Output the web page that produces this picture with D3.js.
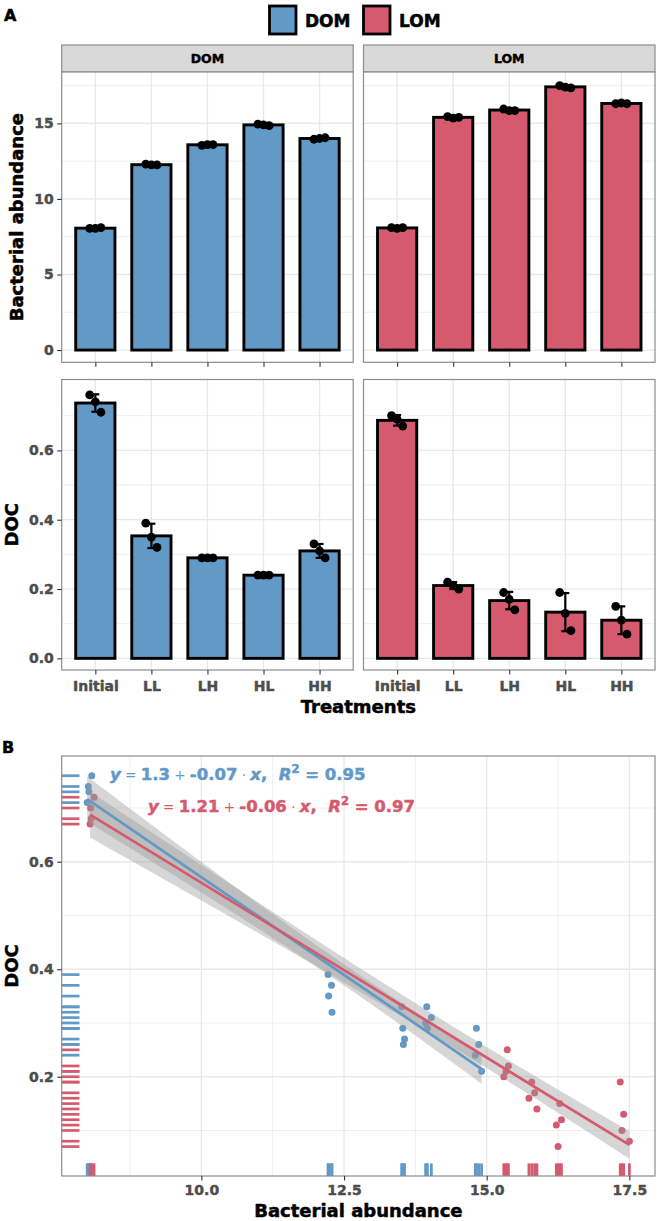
<!DOCTYPE html>
<html><head><meta charset="utf-8">
<script src="https://d3js.org/d3.v7.min.js"></script>
<style>
body{margin:0;background:#fff;}
svg{display:block;}
</style></head>
<body><svg id="chart" width="660" height="1221"></svg>
<script>
// ---------------- data ----------------
const treatments = ["Initial", "LL", "LH", "HL", "HH"];
const groups = ["DOM", "LOM"];
const groupColors = ["#6199c7", "#d65a6e"];

// Panel A: replicate values per treatment
const abundanceDOM = [[8.05, 8.05, 8.1], [12.3, 12.25, 12.25], [13.55, 13.6, 13.6], [14.95, 14.9, 14.85], [13.95, 14.0, 14.05]];
const abundanceLOM = [[8.1, 8.05, 8.1], [15.45, 15.35, 15.4], [15.95, 15.85, 15.85], [17.5, 17.4, 17.35], [16.3, 16.35, 16.3]];
const docDOM = [[0.76, 0.74, 0.71], [0.39, 0.35, 0.32], [0.29, 0.29, 0.29], [0.24, 0.24, 0.24], [0.33, 0.31, 0.29]];
const docLOM = [[0.70, 0.69, 0.67], [0.22, 0.21, 0.20], [0.19, 0.17, 0.14], [0.19, 0.13, 0.08], [0.15, 0.11, 0.07]];
const abundanceTicks = [0, 5, 10, 15];
const docTicks = [0, 0.2, 0.4, 0.6];

// Panel B: bacterial abundance vs DOC
const scatterDOMx = [8.08, 8.02, 8.03, 8.00, 12.22, 12.28, 12.23, 12.29, 13.51, 13.53, 13.56, 13.54, 13.95, 14.03, 13.93, 13.96, 14.82, 14.86, 14.80, 14.91];
const scatterDOMy = [0.76, 0.74, 0.73, 0.71, 0.39, 0.37, 0.35, 0.32, 0.33, 0.29, 0.27, 0.26, 0.33, 0.31, 0.30, 0.29, 0.29, 0.26, 0.24, 0.21];
const scatterLOMx = [8.12, 8.06, 8.07, 8.05, 15.36, 15.38, 15.34, 15.30, 15.79, 15.84, 15.74, 15.88, 16.28, 16.31, 16.22, 16.25, 17.34, 17.40, 17.37, 17.50];
const scatterLOMy = [0.72, 0.70, 0.68, 0.67, 0.25, 0.22, 0.21, 0.20, 0.19, 0.17, 0.16, 0.14, 0.15, 0.12, 0.11, 0.07, 0.19, 0.13, 0.10, 0.08];
const scatterXTicks = [10, 12.5, 15, 17.5];
const scatterYTicks = [0.2, 0.4, 0.6];
const eqIntercept = ["1.3", "1.21"];
const eqSlope = ["-0.07", "-0.06"];
const eqR2 = ["0.95", "0.97"];

// ---------------- drawing ----------------
const FONT = "'DejaVu Sans', 'Liberation Sans', sans-serif";
const GRID = "#e8e8e8", BORDER = "#8c8c8c", TICK = "#333333", TICKTXT = "#4d4d4d";
const svg = d3.select("#chart");
svg.append("rect").attr("width", 660).attr("height", 1221).attr("fill", "#fff");

function heavy(sel, color, w) {
  return sel.attr("stroke", color).attr("stroke-width", w).attr("stroke-linejoin", "round").attr("paint-order", "stroke");
}
function txt(sel, x, y, s, size, o = {}) {
  const t = sel.append("text").attr("x", x).attr("y", y).text(s)
    .attr("font-family", FONT).attr("font-weight", o.weight || "bold")
    .attr("font-size", size).attr("fill", o.fill || "#000")
    .attr("text-anchor", o.anchor || "start")
    .attr("transform", o.transform || null);
  heavy(t, o.fill || "#000", o.sw === undefined ? 0.5 : o.sw);
  return t;
}
function midpoints(t) {
  const step = t[1] - t[0];
  const out = [];
  for (let i = 0; i < t.length; i++) out.push(t[i] - step / 2, t[i] + step / 2);
  return Array.from(new Set(out.map(v => +v.toFixed(6))));
}
function styleAxis(ax) {
  ax.select(".domain").remove();
  ax.selectAll(".tick line").attr("stroke", TICK).attr("stroke-width", 1.1);
  const t = ax.selectAll(".tick text").attr("font-family", FONT).attr("font-weight", "bold")
    .attr("font-size", 14).attr("fill", TICKTXT);
  heavy(t, TICKTXT, 0.45);
}

// ---- panel A labels & legend ----
txt(svg, 4, 21, "A", 16);
const legendKeys = [{x: 269.5, tx: 305}, {x: 363.5, tx: 399}];
groups.forEach((g, i) => {
  svg.append("rect").attr("x", legendKeys[i].x).attr("y", 6).attr("width", 26.5).attr("height", 28)
    .attr("fill", groupColors[i]).attr("stroke", "#000").attr("stroke-width", 2.8);
  txt(svg, legendKeys[i].tx, 26.5, g, 17);
});

const A = {x0: [61.7, 363.5], w: 291.5, stripTop: 45, stripBot: 72,
  rows: [{top: 72, bot: 362.3}, {top: 379.5, bot: 670}]};
const yAb = d3.scaleLinear().domain([-0.81, 18.4]).range([A.rows[0].bot, A.rows[0].top]);
const yDoc = d3.scaleLinear().domain([-0.0336, 0.8045]).range([A.rows[1].bot, A.rows[1].top]);
const rowScales = [yAb, yDoc];
const rowTicks = [abundanceTicks, docTicks];
const rowFormat = [d3.format("d"), d3.format(".1f")];
const rowData = [[abundanceDOM, abundanceLOM], [docDOM, docLOM]];
const jitter = [-0.1, 0, 0.1];

groups.forEach((gname, gi) => {
  const x0 = A.x0[gi], x1 = x0 + A.w;
  const x = d3.scalePoint().domain(treatments).range([x0, x1]).padding(0.6);
  const bw = x.step() * 0.7;
  // strip
  svg.append("rect").attr("x", x0).attr("y", A.stripTop).attr("width", A.w)
    .attr("height", A.stripBot - A.stripTop).attr("fill", "#d9d9d9")
    .attr("stroke", BORDER).attr("stroke-width", 1.2);
  txt(svg, (x0 + x1) / 2, 63, gname, 12.5, {anchor: "middle", sw: 0.45});

  rowData.forEach((rd, ri) => {
    const y = rowScales[ri], r = A.rows[ri];
    const g = svg.append("g");
    g.append("rect").attr("x", x0).attr("y", r.top).attr("width", A.w).attr("height", r.bot - r.top).attr("fill", "#fff");
    midpoints(rowTicks[ri]).filter(v => y(v) > r.top && y(v) < r.bot).forEach(v => {
      g.append("line").attr("x1", x0).attr("x2", x1).attr("y1", y(v)).attr("y2", y(v))
        .attr("stroke", GRID).attr("stroke-width", 0.7);
    });
    rowTicks[ri].forEach(v => {
      g.append("line").attr("x1", x0).attr("x2", x1).attr("y1", y(v)).attr("y2", y(v))
        .attr("stroke", GRID).attr("stroke-width", 1.3);
    });
    treatments.forEach(t => {
      g.append("line").attr("x1", x(t)).attr("x2", x(t)).attr("y1", r.top).attr("y2", r.bot)
        .attr("stroke", GRID).attr("stroke-width", 1.3);
    });
    const stats = rd[gi].map((v, i) => ({t: treatments[i], v, mean: d3.mean(v), sd: d3.deviation(v)}));
    g.selectAll(".bar").data(stats).enter().append("rect")
      .attr("x", d => x(d.t) - bw / 2).attr("y", d => y(d.mean))
      .attr("width", bw).attr("height", d => y(0) - y(d.mean))
      .attr("fill", groupColors[gi]).attr("stroke", "#000").attr("stroke-width", 2.9);
    stats.forEach(d => {
      const lo = y(d.mean - d.sd), hi = y(d.mean + d.sd), cx = x(d.t);
      g.append("line").attr("x1", cx).attr("x2", cx).attr("y1", lo).attr("y2", hi).attr("stroke", "#000").attr("stroke-width", 2.2);
      [lo, hi].forEach(yy => g.append("line").attr("x1", cx - 4).attr("x2", cx + 4).attr("y1", yy).attr("y2", yy).attr("stroke", "#000").attr("stroke-width", 2.2));
      d.v.forEach((val, k) => {
        g.append("circle").attr("cx", cx + jitter[k] * x.step()).attr("cy", y(val)).attr("r", 4.4).attr("fill", "#000");
      });
    });
    g.append("rect").attr("x", x0).attr("y", r.top).attr("width", A.w).attr("height", r.bot - r.top)
      .attr("fill", "none").attr("stroke", BORDER).attr("stroke-width", 1.2);
    // x ticks
    const axB = svg.append("g").attr("transform", `translate(0,${r.bot})`)
      .call(d3.axisBottom(x).tickSize(4.5).tickPadding(6.5));
    styleAxis(axB);
    if (ri === 0) axB.selectAll(".tick text").remove();
    if (gi === 0) {
      const axL = svg.append("g").attr("transform", `translate(${x0},0)`)
        .call(d3.axisLeft(y).tickValues(rowTicks[ri]).tickFormat(rowFormat[ri]).tickSize(4.5).tickPadding(3.5));
      styleAxis(axL);
    }
  });
});
txt(svg, 0, 0, "Bacterial abundance", 18, {anchor: "middle", transform: `translate(22.5,${(A.rows[0].top + A.rows[0].bot) / 2}) rotate(-90)`});
txt(svg, 0, 0, "DOC", 18, {anchor: "middle", transform: `translate(17.5,${(A.rows[1].top + A.rows[1].bot) / 2}) rotate(-90)`});
txt(svg, (A.x0[0] + A.x0[1] + A.w) / 2, 713, "Treatments", 18, {anchor: "middle"});

// ---- panel B ----
txt(svg, 2, 753, "B", 16);
const B = {left: 61.7, right: 655, top: 756, bot: 1176};
const xB = d3.scaleLinear().domain([7.553, 17.949]).range([B.left, B.right]);
const yB = d3.scaleLinear().domain([0.0153, 0.7967]).range([B.bot, B.top]);
const gB = svg.append("g");
gB.append("rect").attr("x", B.left).attr("y", B.top).attr("width", B.right - B.left).attr("height", B.bot - B.top).attr("fill", "#fff");
midpoints(scatterXTicks).filter(v => xB(v) > B.left && xB(v) < B.right).forEach(v => {
  gB.append("line").attr("x1", xB(v)).attr("x2", xB(v)).attr("y1", B.top).attr("y2", B.bot).attr("stroke", GRID).attr("stroke-width", 0.7);
});
midpoints(scatterYTicks).filter(v => yB(v) > B.top && yB(v) < B.bot).forEach(v => {
  gB.append("line").attr("x1", B.left).attr("x2", B.right).attr("y1", yB(v)).attr("y2", yB(v)).attr("stroke", GRID).attr("stroke-width", 0.7);
});
scatterXTicks.forEach(v => gB.append("line").attr("x1", xB(v)).attr("x2", xB(v)).attr("y1", B.top).attr("y2", B.bot).attr("stroke", GRID).attr("stroke-width", 1.3));
scatterYTicks.forEach(v => gB.append("line").attr("x1", B.left).attr("x2", B.right).attr("y1", yB(v)).attr("y2", yB(v)).attr("stroke", GRID).attr("stroke-width", 1.3));

const series = [
  {xs: scatterDOMx, ys: scatterDOMy, color: groupColors[0]},
  {xs: scatterLOMx, ys: scatterLOMy, color: groupColors[1]}
];
function linfit(xs, ys) {
  const n = xs.length, mx = d3.mean(xs), my = d3.mean(ys);
  let sxx = 0, sxy = 0;
  xs.forEach((xv, i) => { sxx += (xv - mx) ** 2; sxy += (xv - mx) * (ys[i] - my); });
  const b = sxy / sxx, a = my - b * mx;
  let sse = 0;
  xs.forEach((xv, i) => { sse += (ys[i] - (a + b * xv)) ** 2; });
  const s = Math.sqrt(sse / (n - 2));
  return {a, b, s, n, mx, sxx};
}
const tCrit = 2.101; // t(0.975, df = 18)
// points
series.forEach(sr => {
  sr.xs.forEach((xv, i) => {
    gB.append("circle").attr("cx", xB(xv)).attr("cy", yB(sr.ys[i])).attr("r", 3.5).attr("fill", sr.color);
  });
});
// confidence bands
series.forEach(sr => {
  const f = linfit(sr.xs, sr.ys);
  const [mn, mxx] = d3.extent(sr.xs);
  const grid = d3.range(0, 81).map(k => mn + (mxx - mn) * k / 80);
  const band = grid.map(xv => {
    const yh = f.a + f.b * xv;
    const se = f.s * Math.sqrt(1 / f.n + (xv - f.mx) ** 2 / f.sxx);
    return {x: xv, lo: yh - tCrit * se, hi: yh + tCrit * se};
  });
  gB.append("path").datum(band)
    .attr("d", d3.area().x(d => xB(d.x)).y0(d => yB(d.lo)).y1(d => yB(d.hi)))
    .attr("fill", "#999999").attr("fill-opacity", 0.4);
  sr.fit = f; sr.ext = [mn, mxx];
});
series.forEach(sr => {
  const f = sr.fit;
  gB.append("path").datum(sr.ext)
    .attr("d", d3.line().x(d => xB(d)).y(d => yB(f.a + f.b * d)))
    .attr("stroke", sr.color).attr("stroke-width", 2.7).attr("fill", "none");
});
// rugs
const rugY = 0.03 * (B.right - B.left), rugX = 0.03 * (B.bot - B.top);
series.forEach(sr => {
  sr.ys.forEach(yv => gB.append("line").attr("x1", B.left).attr("x2", B.left + rugY)
    .attr("y1", yB(yv)).attr("y2", yB(yv)).attr("stroke", sr.color).attr("stroke-width", 2.7));
  sr.xs.forEach(xv => gB.append("line").attr("x1", xB(xv)).attr("x2", xB(xv))
    .attr("y1", B.bot).attr("y2", B.bot - rugX).attr("stroke", sr.color).attr("stroke-width", 2.8));
});
// equations
const eqPos = [{x: 110, y: 779.5}, {x: 148, y: 812}];
series.forEach((sr, i) => {
  const t = gB.append("text").attr("x", eqPos[i].x).attr("y", eqPos[i].y)
    .attr("font-family", FONT).attr("font-size", 16.5).attr("font-weight", "bold")
    .attr("fill", sr.color).style("white-space", "pre");
  heavy(t, sr.color, 0.5);
  const parts = [
    {s: "y", it: true}, {s: " = ", w: "normal", fs: 13.5}, {s: eqIntercept[i]},
    {s: " + ", w: "normal", fs: 13.5}, {s: eqSlope[i]}, {s: " · ", w: "normal", fs: 13.5},
    {s: "x", it: true}, {s: ",  "}, {s: "R", it: true}, {s: "2", fs: 11.5, dy: -7},
    {s: " = " + eqR2[i], dy: 7}
  ];
  parts.forEach(p => {
    const ts = t.append("tspan").text(p.s);
    if (p.it) ts.attr("font-style", "italic");
    if (p.w) ts.attr("font-weight", p.w).attr("stroke-width", 0);
    if (p.fs) ts.attr("font-size", p.fs);
    if (p.dy) ts.attr("dy", p.dy);
  });
});
gB.append("rect").attr("x", B.left).attr("y", B.top).attr("width", B.right - B.left).attr("height", B.bot - B.top)
  .attr("fill", "none").attr("stroke", BORDER).attr("stroke-width", 1.2);
const axBx = svg.append("g").attr("transform", `translate(0,${B.bot})`)
  .call(d3.axisBottom(xB).tickValues(scatterXTicks).tickFormat(d3.format(".1f")).tickSize(4.5).tickPadding(4.5));
styleAxis(axBx);
const axBy = svg.append("g").attr("transform", `translate(${B.left},0)`)
  .call(d3.axisLeft(yB).tickValues(scatterYTicks).tickFormat(d3.format(".1f")).tickSize(4.5).tickPadding(3.5));
styleAxis(axBy);
txt(svg, (B.left + B.right) / 2, 1217, "Bacterial abundance", 18, {anchor: "middle"});
txt(svg, 0, 0, "DOC", 18, {anchor: "middle", transform: `translate(17.5,${(B.top + B.bot) / 2}) rotate(-90)`});
</script>
</body></html>
